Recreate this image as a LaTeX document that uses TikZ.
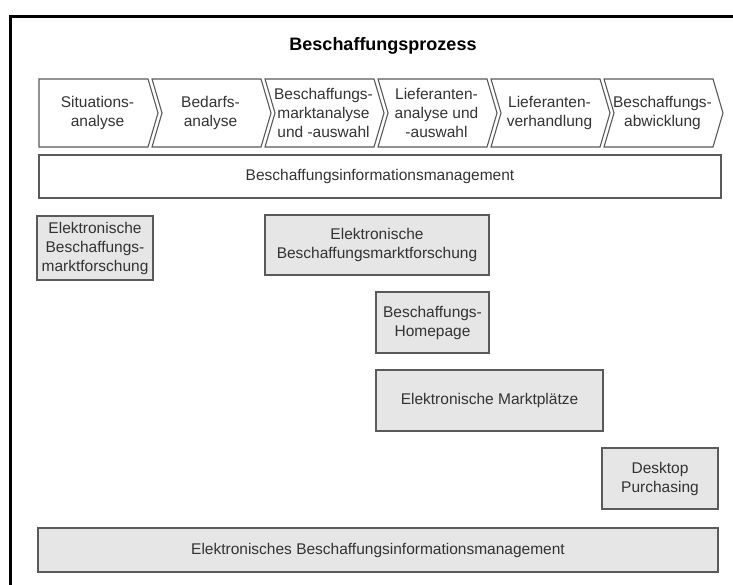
\documentclass[tikz,border=0pt]{standalone}
\usepackage{fontspec}
\setmainfont{Liberation Sans}
\definecolor{linegray}{HTML}{5A5A5A}
\definecolor{txtgray}{HTML}{333333}
\definecolor{boxgray}{HTML}{E6E6E6}
\begin{document}
\begin{tikzpicture}[x=1pt,y=-1pt,
  txt/.style={text=txtgray, align=center, inner sep=0pt,
    font=\fontsize{15.5}{19}\selectfont},
  chevshape/.style={draw=linegray, line width=1.1pt, fill=white, line join=miter},
  plainbox/.style={draw=linegray, line width=1.1pt, fill=white, txt, inner sep=0pt},
  greybox/.style={draw=linegray, line width=1.1pt, fill=boxgray, txt, inner sep=0pt},
]
\useasboundingbox (0,0) rectangle (733,585);
\fill[white] (0,0) rectangle (733,585);

% outer frame (open to the right and bottom)
\draw[line width=3pt] (10,585) -- (10,17) -- (733,17);

% title
\node[txt, font=\fontsize{18}{21}\selectfont\bfseries, text=black] (title) at (383,46) {Beschaffungsprozess};

% process chevrons
\foreach \i/\lbl in {0/{Situations-\\analyse},
                     1/{Bedarfs-\\analyse},
                     2/{Beschaffungs-\\marktanalyse\\und -auswahl},
                     3/{Lieferanten-\\analyse und\\-auswahl},
                     4/{Lieferanten-\\verhandlung},
                     5/{Beschaffungs-\\abwicklung}} {
  \pgfmathsetmacro{\L}{39+113*\i}
  \pgfmathsetmacro{\R}{\L+109}
  \pgfmathsetmacro{\Rt}{\R+10}
  \pgfmathsetmacro{\Ln}{\i>0 ? \L+10 : \L}
  \pgfmathsetmacro{\C}{(\L+\R)/2+4}
  \draw[chevshape] (\L,79) -- (\R,79) -- (\Rt,113) -- (\R,147) -- (\L,147) -- (\Ln,113) -- cycle;
  \node[txt] (c\i) at (\C,113) {\lbl};
}

% information management bar
\node[plainbox, minimum width=682, minimum height=43] (info) at (380,176.5)
  {Beschaffungsinformationsmanagement};

% electronic instruments
\node[greybox, minimum width=116, minimum height=64] (emf1) at (95,248)
  {Elektronische\\Beschaffungs-\\marktforschung};
\node[greybox, minimum width=224, minimum height=60] (emf2) at (377,245)
  {Elektronische\\Beschaffungsmarktforschung};
\node[greybox, minimum width=113, minimum height=61] (home) at (432.5,322.5)
  {Beschaffungs-\\Homepage};
\node[greybox, minimum width=227, minimum height=61] (markt) at (489.5,400.5)
  {Elektronische Marktplätze};
\node[greybox, minimum width=116, minimum height=61] (desk) at (660,478.5)
  {Desktop\\Purchasing};
\node[greybox, minimum width=680, minimum height=44] (ebim) at (378,550)
  {Elektronisches Beschaffungsinformationsmanagement};
\end{tikzpicture}
\end{document}
